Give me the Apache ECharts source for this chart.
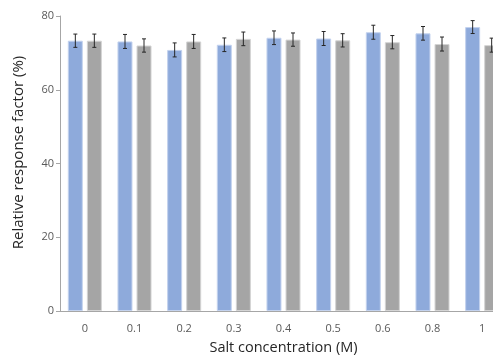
<!DOCTYPE html>
<html style="height: 100%">
<head>
    <meta charset="utf-8">
    <script type="text/javascript" src="https://cdn.jsdelivr.net/npm/echarts@6/dist/echarts.min.js"></script>
</head>
<body style="height: 100%; margin: 0">
<div id="container" style="width: 493px; height: 356px"></div>
<script type="text/javascript">
    // salt concentration (M)
    var categories = ['0', '0.1', '0.2', '0.3', '0.4', '0.5', '0.6', '0.8', '1'];
    // relative response factor (%), two series
    var blueValues = [73.3, 73.1, 70.8, 72.2, 74.1, 73.9, 75.6, 75.3, 77.0];
    var blueErrors = [1.8, 1.9, 1.9, 1.85, 1.85, 1.9, 1.9, 1.85, 1.75];
    var grayValues = [73.3, 72.0, 73.1, 73.8, 73.6, 73.4, 72.9, 72.4, 72.1];
    var grayErrors = [1.8, 1.8, 1.9, 1.85, 1.8, 1.8, 1.8, 1.9, 1.9];

    var dom = document.getElementById("container");
    var myChart = echarts.init(dom);

    // error bar data: [categoryIndex, low, high]
    function errData(vals, errs) {
        return vals.map(function (v, i) {
            return [i, v - errs[i], v + errs[i]];
        });
    }

    function errRenderer(offset) {
        return function (params, api) {
            var x = api.value(0);
            var lo = api.coord([x, api.value(1)]);
            var hi = api.coord([x, api.value(2)]);
            var cx = lo[0] + offset;
            var style = {stroke: '#262626', lineWidth: 1};
            return {
                type: 'group',
                children: [
                    {type: 'line', shape: {x1: cx, y1: hi[1], x2: cx, y2: lo[1]}, style: style},
                    {type: 'line', shape: {x1: cx - 2, y1: hi[1], x2: cx + 2, y2: hi[1]}, style: style},
                    {type: 'line', shape: {x1: cx - 2, y1: lo[1], x2: cx + 2, y2: lo[1]}, style: style}
                ]
            };
        };
    }

    var option = {
        animation: false,
        textStyle: {fontFamily: 'Open Sans'},
        // the original figure is cut off at the right edge
        grid: {left: 60, right: -14, top: 16, bottom: 45, outerBoundsMode: 'none'},
        xAxis: {
            type: 'category',
            data: categories,
            name: 'Salt concentration (M)',
            nameLocation: 'middle',
            nameGap: 29,
            nameTextStyle: {fontSize: 14.5, color: '#262626'},
            axisLine: {lineStyle: {color: '#a6a6a6', width: 1}},
            axisTick: {show: false},
            axisLabel: {fontSize: 11, color: '#595959', margin: 12}
        },
        yAxis: {
            type: 'value',
            min: 0,
            max: 80,
            interval: 20,
            name: 'Relative response factor (%)',
            nameLocation: 'middle',
            nameGap: 34,
            nameTextStyle: {fontSize: 15, color: '#262626', padding: [0, 0, 0, 22]},
            axisLine: {show: true, lineStyle: {color: '#a6a6a6', width: 1}},
            axisTick: {show: true, length: 4, lineStyle: {color: '#a6a6a6'}},
            axisLabel: {fontSize: 11, color: '#595959', margin: 6},
            splitLine: {show: false}
        },
        series: [
            {
                type: 'bar',
                data: blueValues,
                barWidth: 15,
                barGap: '27%',
                itemStyle: {color: '#8eaadb', borderColor: '#c3d2ee', borderWidth: 1}
            },
            {
                type: 'bar',
                data: grayValues,
                barWidth: 15,
                barGap: '27%',
                itemStyle: {color: '#a5a5a5', borderColor: '#d4d4d4', borderWidth: 1}
            },
            {
                type: 'custom',
                data: errData(blueValues, blueErrors),
                renderItem: errRenderer(-9.5),
                z: 10
            },
            {
                type: 'custom',
                data: errData(grayValues, grayErrors),
                renderItem: errRenderer(9.5),
                z: 10
            }
        ]
    };

    myChart.setOption(option);
</script>
</body>
</html>
